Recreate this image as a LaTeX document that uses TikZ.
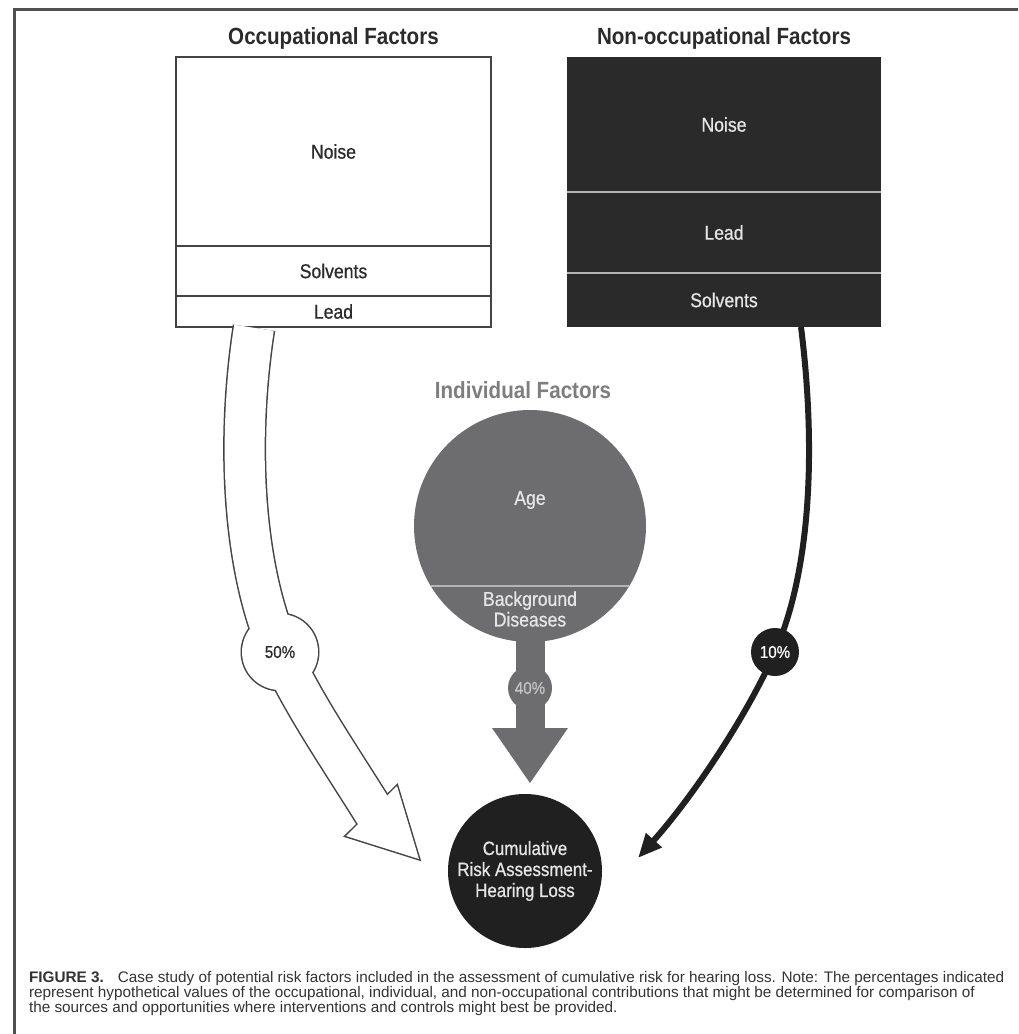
\documentclass[tikz,border=0pt]{standalone}
\usepackage{fontspec}
\setmainfont{Liberation Sans}
\newfontfamily\condsans[FakeStretch=0.88]{Liberation Sans}
\newfontfamily\medsans[FakeStretch=0.88,FakeBold=0.7]{Liberation Sans}
\usetikzlibrary{calc,arrows.meta}

\definecolor{framegray}{HTML}{505050}
\definecolor{boxline}{HTML}{444444}
\definecolor{darkfill}{HTML}{2A2A2A}
\definecolor{divline}{HTML}{B4B4B4}
\definecolor{indgray}{HTML}{6D6D6F}
\definecolor{indtitle}{HTML}{7E7E7E}
\definecolor{inktext}{HTML}{2B2B2B}
\definecolor{palegray}{HTML}{E6E6E6}
\definecolor{pctgray}{HTML}{C4C4C4}
\definecolor{blk}{HTML}{202020}
\definecolor{captext}{HTML}{333333}

\begin{document}
\begin{tikzpicture}[x=0.5pt,y=-0.5pt,
  every node/.style={inner sep=0pt,outer sep=0pt},
  heading/.style={font=\condsans\bfseries\fontsize{11.7}{14}\selectfont,text=inktext},
  lbl/.style={font=\medsans\fontsize{10}{11}\selectfont},
  occbox/.style={lbl,draw=boxline,line width=0.75pt,fill=white,minimum width=157.5pt,text=inktext},
  nonbox/.style={lbl,fill=darkfill,minimum width=157pt,text=palegray},
  divider/.style={draw=divline,line width=1pt},
  pct/.style={font=\medsans\fontsize{8.6}{10}\selectfont},
  capline/.style={anchor=base west,font=\fontsize{7.65}{9}\selectfont,text=captext},
]
\useasboundingbox[fill=white] (0,0) rectangle (1018,1034);
% page frame
\draw[framegray,line width=1.5pt] (14,1034) -- (14,9) -- (1018,9);

% target: cumulative risk assessment
\node[circle,fill=blk,minimum size=77pt,align=center,text=palegray,
      font=\medsans\fontsize{9.6}{10.5}\selectfont] (cra) at (525,871)
      {Cumulative\\Risk Assessment-\\Hearing Loss};

% occupational factors
\node[heading] (occtitle) at (333.5,38) {Occupational Factors};
\node[occbox,minimum height=94.5pt] (occnoise) at (333.5,151.5) {Noise};
\node[occbox,minimum height=25pt] (occsolv) at (333.5,271) {Solvents};
\node[occbox,minimum height=15.5pt] (occlead) at (333.5,311.5) {Lead};

% non-occupational factors
\node[heading] (nontitle) at (724,38) {Non-occupational Factors};
\node[nonbox,minimum height=67.5pt] (nonnoise) at (724,124.5) {Noise};
\node[nonbox,minimum height=40.5pt] (nonlead) at (724,232.5) {Lead};
\node[nonbox,minimum height=27pt] (nonsolv) at (724,300) {Solvents};
\draw[divider] (nonnoise.south west) -- (nonnoise.south east);
\draw[divider] (nonlead.south west) -- (nonlead.south east);

% occupational contribution: broad outlined arrow
\coordinate (c50) at (280,652);
\coordinate (ws) at ([xshift=-39.75pt,yshift=-0.4pt]occlead.south);
\coordinate (wtip) at ($(cra.west)+(-29,-12)$);
\coordinate (wl) at ($(wtip)+(-73,-23)$);
\coordinate (wr) at ($(wtip)+(-22,-73)$);
\coordinate (wend) at ($(wtip)+(-42,-42)$);
\draw[boxline,line width=21.5pt] (ws) .. controls (238,430) and (240,560) .. (c50)
      .. controls (300,700) and (345,765) .. (wend);
\draw[boxline,line width=1.5pt] (c50) circle[radius=38];
\draw[boxline,line width=1.5pt,line join=miter] (wtip) -- (wl) -- (wr) -- cycle;
\draw[white,line width=20pt] (ws) .. controls (238,430) and (240,560) .. (c50)
      .. controls (300,700) and (345,765) .. (wend);
\fill[white] (c50) circle[radius=38];
\fill[white] (wtip) -- (wl) -- (wr) -- cycle;
\node[pct,text=inktext] (p50) at (c50) {50\%};

% non-occupational contribution: thin black arrow
\coordinate (c10) at (775,652);
\coordinate (btip) at ($(cra.east)+(36,-13)$);
\draw[blk,line width=3pt] ([xshift=38.5pt]nonsolv.south) .. controls (814,430) and (815,560) .. (c10);
\draw[blk,line width=3pt,-{Triangle[length=12pt,width=10pt]}] (c10) .. controls (745,720) and (690,800) .. (btip);
\node[circle,fill=blk,minimum size=24pt,pct,text=white] (p10) at (c10) {10\%};

% individual factors
\node[heading,text=indtitle] (indtitle) at (523,390) {Individual Factors};
\node[circle,fill=indgray,minimum size=116pt] (indiv) at (530,526) {};
\draw[divider] (indiv.211.1) -- (indiv.-31.1);
\node[lbl,text=palegray] (age) at (530,500) {Age};
\node[lbl,text=palegray,align=center,font=\medsans\fontsize{10}{8.5}\selectfont] (bgd) at (530,609) {Background\\Diseases};
\coordinate (gtip) at ($(cra.north)+(5,-11)$);
\fill[indgray] ($(indiv.south)+(-14.5,-12)$) rectangle ($(gtip)+(14.5,-53)$);
\fill[indgray] ($(gtip)+(-38,-55)$) -- ($(gtip)+(38,-55)$) -- (gtip) -- cycle;
\node[circle,fill=indgray,minimum size=22pt,pct,text=pctgray] (p40) at (530,688) {40\%};

% caption
\node[capline] (cap1) at (29,982) {\textbf{FIGURE 3.}\hspace{7pt}Case study of potential risk factors included in the assessment of cumulative risk for hearing loss. Note: The percentages indicated};
\node[capline] (cap2) at (29,997) {represent hypothetical values of the occupational, individual, and non-occupational contributions that might be determined for comparison of};
\node[capline] (cap3) at (29,1012) {the sources and opportunities where interventions and controls might best be provided.};
\end{tikzpicture}
\end{document}
